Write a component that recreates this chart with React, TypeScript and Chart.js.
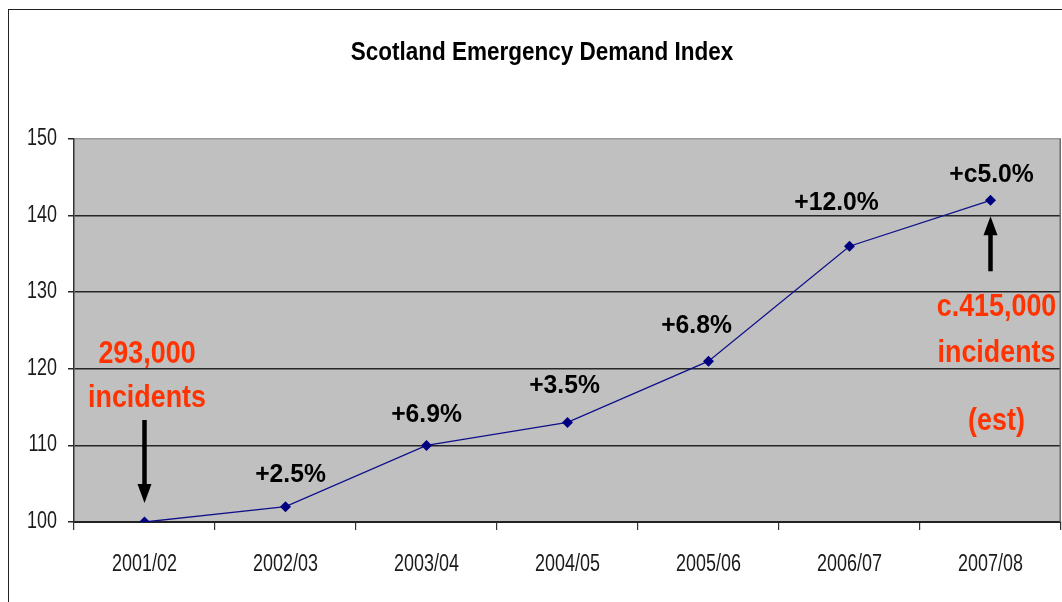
import React, { useEffect, useRef } from "react";
import { Chart, registerables } from "chart.js";

Chart.register(...registerables);

// ---- data ----
const chartTitle = "Scotland Emergency Demand Index";
const categories = ["2001/02", "2002/03", "2003/04", "2004/05", "2005/06", "2006/07", "2007/08"];
const indexValues = [100, 102, 110, 113, 121, 136, 142];
const yTickValues = [100, 110, 120, 130, 140, 150];
const changeLabels = ["", "+2.5%", "+6.9%", "+3.5%", "+6.8%", "+12.0%", "+c5.0%"];
const startNote = ["293,000", "incidents"];
const endNote = ["c.415,000", "incidents", "(est)"];

// ---- styles / layout (offsets relative to data points) ----
const FONT = "'Liberation Sans', Arial, sans-serif";
const changeOffsets: [number, number][] = [
  [0, 0],
  [5, -25],
  [0, -23],
  [-3, -29],
  [-12, -28],
  [-13, -36],
  [1, -18],
];
const startNoteDx = 2.5;
const startNoteDy = [-159, -115];
const endNoteDx = 6;
const endNoteDy = [116, 162, 230];

function drawText(
  ctx: CanvasRenderingContext2D,
  text: string,
  x: number,
  y: number,
  font: string,
  color: string,
  sx: number,
  align: CanvasTextAlign
) {
  ctx.save();
  ctx.translate(x, y);
  ctx.scale(sx, 1);
  ctx.font = font;
  ctx.fillStyle = color;
  ctx.textAlign = align;
  ctx.textBaseline = "alphabetic";
  ctx.fillText(text, 0, 0);
  ctx.restore();
}

function drawArrow(ctx: CanvasRenderingContext2D, x: number, yTail: number, yTip: number) {
  const dir = yTip > yTail ? 1 : -1;
  const headLen = 19;
  const headHalf = 7;
  ctx.save();
  ctx.strokeStyle = "#000";
  ctx.fillStyle = "#000";
  ctx.lineWidth = 4.5;
  ctx.beginPath();
  ctx.moveTo(x, yTail);
  ctx.lineTo(x, yTip - dir * (headLen - 2));
  ctx.stroke();
  ctx.beginPath();
  ctx.moveTo(x, yTip);
  ctx.lineTo(x - headHalf, yTip - dir * headLen);
  ctx.lineTo(x + headHalf, yTip - dir * headLen);
  ctx.closePath();
  ctx.fill();
  ctx.restore();
}

const decorPlugin = {
  id: "decor",
  beforeDraw(chart: any) {
    const { ctx, chartArea } = chart;
    ctx.save();
    ctx.fillStyle = "#C0C0C0";
    ctx.fillRect(chartArea.left, chartArea.top, chartArea.right - chartArea.left, chartArea.bottom - chartArea.top);
    ctx.restore();
  },
  afterDatasetsDraw(chart: any) {
    const { ctx, chartArea } = chart;
    const xs = chart.scales.x;
    const ys = chart.scales.y;
    // plot area right border
    ctx.save();
    ctx.strokeStyle = "#6a6a6a";
    ctx.lineWidth = 1.5;
    ctx.beginPath();
    ctx.moveTo(chartArea.right - 0.75, chartArea.top);
    ctx.lineTo(chartArea.right - 0.75, chartArea.bottom);
    ctx.stroke();
    ctx.restore();

    // title
    drawText(ctx, chartTitle, 542, 59.5, `bold 25px ${FONT}`, "#000", 0.9, "center");

    // tick labels
    const tickFont = `23px ${FONT}`;
    categories.forEach((c, i) => {
      drawText(ctx, c, xs.getPixelForValue(i), 570.5, tickFont, "#1a1a1a", 0.78, "center");
    });
    yTickValues.forEach((v) => {
      drawText(ctx, String(v), 57, ys.getPixelForValue(v) + 6, tickFont, "#1a1a1a", 0.78, "right");
    });

    // change labels
    changeLabels.forEach((t, i) => {
      if (!t) return;
      const px = xs.getPixelForValue(i);
      const py = ys.getPixelForValue(indexValues[i]);
      const [dx, dy] = changeOffsets[i];
      drawText(ctx, t, px + dx, py + dy, `bold 26px ${FONT}`, "#000", 0.95, "center");
    });

    // start note
    const p0x = xs.getPixelForValue(0);
    const p0y = ys.getPixelForValue(indexValues[0]);
    startNote.forEach((t, k) => {
      drawText(ctx, t, p0x + startNoteDx, p0y + startNoteDy[k], `bold 32px ${FONT}`, "#FF3300", 0.84, "center");
    });
    drawArrow(ctx, p0x, p0y - 102, p0y - 19);

    // end note
    const last = indexValues.length - 1;
    const pLx = xs.getPixelForValue(last);
    const pLy = ys.getPixelForValue(indexValues[last]);
    endNote.forEach((t, k) => {
      drawText(ctx, t, pLx + endNoteDx, pLy + endNoteDy[k], `bold 32px ${FONT}`, "#FF3300", 0.84, "center");
    });
    drawArrow(ctx, pLx, pLy + 71, pLy + 16);
  },
};

export default function App() {
  const canvasRef = useRef<HTMLCanvasElement | null>(null);

  useEffect(() => {
    if (!canvasRef.current) return;
    const chart = new Chart(canvasRef.current, {
      type: "line",
      data: {
        labels: categories,
        datasets: [
          {
            label: "Index",
            data: indexValues,
            borderColor: "#10108a",
            borderWidth: 1.3,
            backgroundColor: "#000080",
            pointStyle: "rectRot",
            pointRadius: 5.5,
            pointBackgroundColor: "#000080",
            pointBorderColor: "#000080",
            pointBorderWidth: 0,
            tension: 0,
          },
        ],
      },
      options: {
        responsive: false,
        animation: false,
        layout: { autoPadding: false, padding: { left: 0, top: 139, right: 1, bottom: 0 } },
        plugins: {
          legend: { display: false },
          title: { display: false },
          tooltip: { enabled: false },
        },
        scales: {
          x: {
            offset: true,
            grid: {
              offset: true,
              drawOnChartArea: false,
              drawTicks: true,
              tickLength: 8,
              color: "#333",
              lineWidth: 1.2,
            },
            border: { display: true, color: "#222", width: 2 },
            ticks: { display: false },
            afterFit: (s: any) => {
              s.height = 80;
              s.paddingLeft = 0;
              s.paddingRight = 0;
            },
          },
          y: {
            min: 100,
            max: 150,
            ticks: { display: false, stepSize: 10 },
            grid: {
              drawTicks: true,
              tickLength: 6,
              color: (c: any) => (c.tick && c.tick.value === 150 ? "#9a9a9a" : "#262626"),
              tickColor: "#262626",
              lineWidth: 1.5,
            },
            border: { display: true, color: "#333", width: 1.5 },
            afterFit: (s: any) => {
              s.width = 74;
              s.paddingTop = 0;
              s.paddingBottom = 0;
            },
          },
        },
      },
      plugins: [decorPlugin],
    });
    return () => chart.destroy();
  }, []);

  return (
    <div
      style={{
        position: "fixed",
        left: 0,
        top: 0,
        width: 1062,
        height: 602,
        background: "#fff",
        overflow: "hidden",
      }}
    >
      <div
        style={{
          position: "absolute",
          left: 8,
          top: 9,
          width: 1200,
          height: 800,
          borderLeft: "1.5px solid #222",
          borderTop: "1.5px solid #222",
        }}
      />
      <canvas
        ref={canvasRef}
        width={1062}
        height={602}
        style={{ position: "absolute", left: 0, top: 0, display: "block" }}
      />
    </div>
  );
}
